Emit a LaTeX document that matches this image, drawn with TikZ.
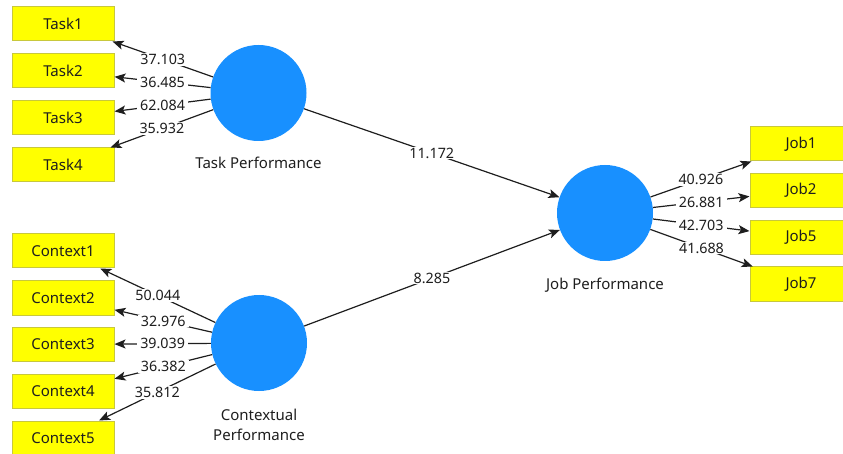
\documentclass[tikz,border=0pt]{standalone}
\usepackage{fontspec}
\setmainfont{Noto Sans}
\usetikzlibrary{arrows.meta}
\definecolor{lvblue}{HTML}{1890FF}
\definecolor{indyellow}{HTML}{FFFF00}
\definecolor{indborder}{HTML}{C8C83C}
\definecolor{inkgray}{HTML}{1E1E1E}
\tikzset{
  every node/.style={font=\fontsize{15}{19}\selectfont, text=inkgray},
  indicator/.style={draw=indborder, line width=1pt, fill=indyellow,
    minimum width=102pt, minimum height=34pt, inner sep=0pt},
  latent/.style={circle, fill=lvblue, minimum size=96pt, inner sep=0pt},
  link/.style={draw=inkgray, line width=1.2pt,
    -{Stealth[length=11pt, width=9pt, inset=2.5pt]}},
  coef/.style={fill=white, inner xsep=3pt, inner ysep=1pt, pos=0.5,
    font=\fontsize{14.3}{17}\selectfont},
}
\begin{document}
\begin{tikzpicture}[x=1pt, y=-1pt]
  \path[use as bounding box] (0,0) rectangle (843,454);
  \clip (0,0) rectangle (843,454);

  % latent variables
  \node[latent] (tp) at (258.5,93) {};
  \node[latent] (cp) at (259,343) {};
  \node[latent] (jp) at (605,213) {};
  \node at (258.5,163) {Task Performance};
  \node[align=center, font=\fontsize{15}{20}\selectfont] at (259,425) {Contextual\\Performance};
  \node at (605,285) {Job Performance};

  % task indicators
  \node[indicator] (t1) at (63,24) {Task1};
  \node[indicator] (t2) at (63,71) {Task2};
  \node[indicator] (t3) at (63,118) {Task3};
  \node[indicator] (t4) at (63,165) {Task4};

  % contextual indicators
  \node[indicator] (c1) at (63,251) {Context1};
  \node[indicator] (c2) at (63,298) {Context2};
  \node[indicator] (c3) at (63,344.5) {Context3};
  \node[indicator] (c4) at (63,391.5) {Context4};
  \node[indicator] (c5) at (63,438) {Context5};

  % job indicators
  \node[indicator] (j1) at (801,144) {Job1};
  \node[indicator] (j2) at (801,190.5) {Job2};
  \node[indicator] (j5) at (801,237.5) {Job5};
  \node[indicator] (j7) at (801,284) {Job7};

  % outer loadings
  \draw[link] (tp) -- node[coef] {37.103} (t1);
  \draw[link] (tp) -- node[coef] {36.485} (t2);
  \draw[link] (tp) -- node[coef] {62.084} (t3);
  \draw[link] (tp) -- node[coef] {35.932} (t4);

  \draw[link] (cp) -- node[coef] {50.044} (c1);
  \draw[link] (cp) -- node[coef] {32.976} (c2);
  \draw[link] (cp) -- node[coef] {39.039} (c3);
  \draw[link] (cp) -- node[coef] {36.382} (c4);
  \draw[link] (cp) -- node[coef] {35.812} (c5);

  \draw[link] (jp) -- node[coef] {40.926} (j1);
  \draw[link] (jp) -- node[coef] {26.881} (j2);
  \draw[link] (jp) -- node[coef] {42.703} (j5);
  \draw[link] (jp) -- node[coef] {41.688} (j7);

  % structural paths
  \draw[link] (tp) -- node[coef] {11.172} (jp);
  \draw[link] (cp) -- node[coef] {8.285} (jp);
\end{tikzpicture}
\end{document}
